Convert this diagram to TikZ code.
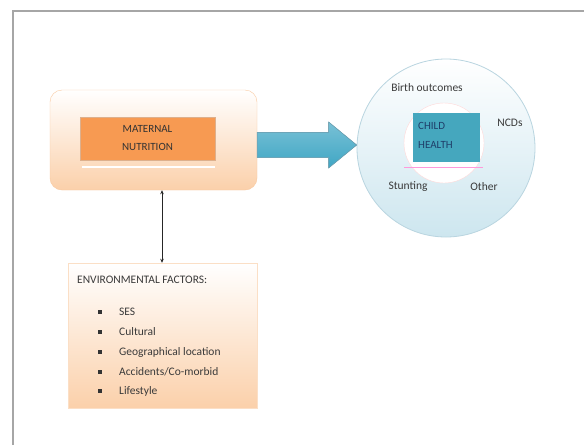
\documentclass[tikz,border=0pt]{standalone}
\usepackage{fontspec}
\setmainfont{Carlito}
\usetikzlibrary{arrows.meta,calc}
\definecolor{frameg}{HTML}{A6A6A6}
\definecolor{peach}{HTML}{FBD0AA}
\definecolor{peachline}{HTML}{F9C9A0}
\definecolor{orangefill}{HTML}{F79A52}
\definecolor{tealfill}{HTML}{45A7BE}
\definecolor{arrowblue}{HTML}{3FA6C4}
\definecolor{arrowdark}{HTML}{2F7F99}
\definecolor{ringfill}{HTML}{CDE6EF}
\definecolor{ringline}{HTML}{B9D5E0}
\definecolor{darkblue}{HTML}{1F3F6A}
\definecolor{txt}{HTML}{3A3A3A}
\tikzset{
  lbl/.style={font=\fontsize{11.5}{13}\selectfont, text=txt, inner sep=0pt},
  bul/.style={rectangle, fill=black!80, inner sep=0pt, minimum size=3.6pt},
}
\begin{document}
\begin{tikzpicture}[x=1pt,y=-1pt]
\useasboundingbox (0,0) rectangle (584,445);
\fill[white] (0,0) rectangle (584,445);
% frame
\draw[frameg, line width=1.8pt] (13,445) -- (13,11) -- (584,11);

% maternal nutrition outer box
\node[draw=peachline, rounded corners=12pt, top color=white, bottom color=peach,
      minimum width=207pt, minimum height=100pt, inner sep=0pt] (mout) at (153.5,140) {};
\node[fill=orangefill, draw=orangefill!80!black!60, minimum width=135pt, minimum height=43pt,
      inner sep=0pt] (mnut) at (147.5,138.5) {};
\node[lbl, align=center, text=black!80, font=\fontsize{11}{18}\selectfont] (mtext) at (mnut.center) {MATERNAL\\NUTRITION};
\draw[white, line width=1.2pt] (82,167) -- (215,167);

% environmental factors box
\node[draw=peachline!60, top color=white, bottom color=peach,
      minimum width=189pt, minimum height=145pt, inner sep=0pt] (env) at (162.5,335.5) {};
\node[lbl, anchor=west] (envt) at (77,280) {ENVIRONMENTAL FACTORS:};
\foreach \y/\t [count=\i] in {312/{SES},332/{Cultural},352/{Geographical location},372/{Accidents/Co-morbid},391/{Lifestyle}}{
  \node[bul] (b\i) at (100,\y) {};
  \node[lbl, anchor=west] (e\i) at (119,\y) {\t};
}

% double arrow
\draw[{Stealth[length=4pt,width=3.5pt]}-{Stealth[length=4pt,width=3.5pt]}, line width=0.8pt, black!85]
  (mout.south -| 162,0) -- (env.north -| 162,0);

% circles
\node[circle, draw=ringline, line width=0.8pt, top color=white, bottom color=ringfill,
      minimum size=178pt, inner sep=0pt] (ring) at (446,148) {};
\node[circle, fill=white, draw=white!85!red, line width=0.4pt, minimum size=80pt, inner sep=0pt] (hole) at (444,143) {};
\node[fill=tealfill, minimum width=67pt, minimum height=49pt, inner sep=0pt] (child) at (446.5,137.5) {};
\node[lbl, align=left, anchor=north west, text=darkblue, font=\fontsize{11}{19}\selectfont] (ctext) at (418,122) {CHILD\\HEALTH};
\draw[red!35!magenta!40, line width=1pt] (404,167) -- (483,167);

\node[lbl] (birth) at (427,88) {Birth outcomes};
\node[lbl] (ncd) at (510,123) {NCDs};
\node[lbl] (stunt) at (408,187) {Stunting};
\node[lbl] (other) at (484,187) {Other};

% block arrow
\coordinate (as) at (mout.east |- 0,145);
\coordinate (ae) at (ring.west |- 0,145);
\fill[top color=arrowblue!70, bottom color=arrowblue, draw=arrowdark!70, line width=0.6pt]
  ($(as)+(0,-12.5)$) -- ($(ae)+(-28,-12.5)$) -- ($(ae)+(-28,-23)$) -- (ae)
  -- ($(ae)+(-28,23)$) -- ($(ae)+(-28,12.5)$) -- ($(as)+(0,12.5)$) -- cycle;
\end{tikzpicture}
\end{document}
